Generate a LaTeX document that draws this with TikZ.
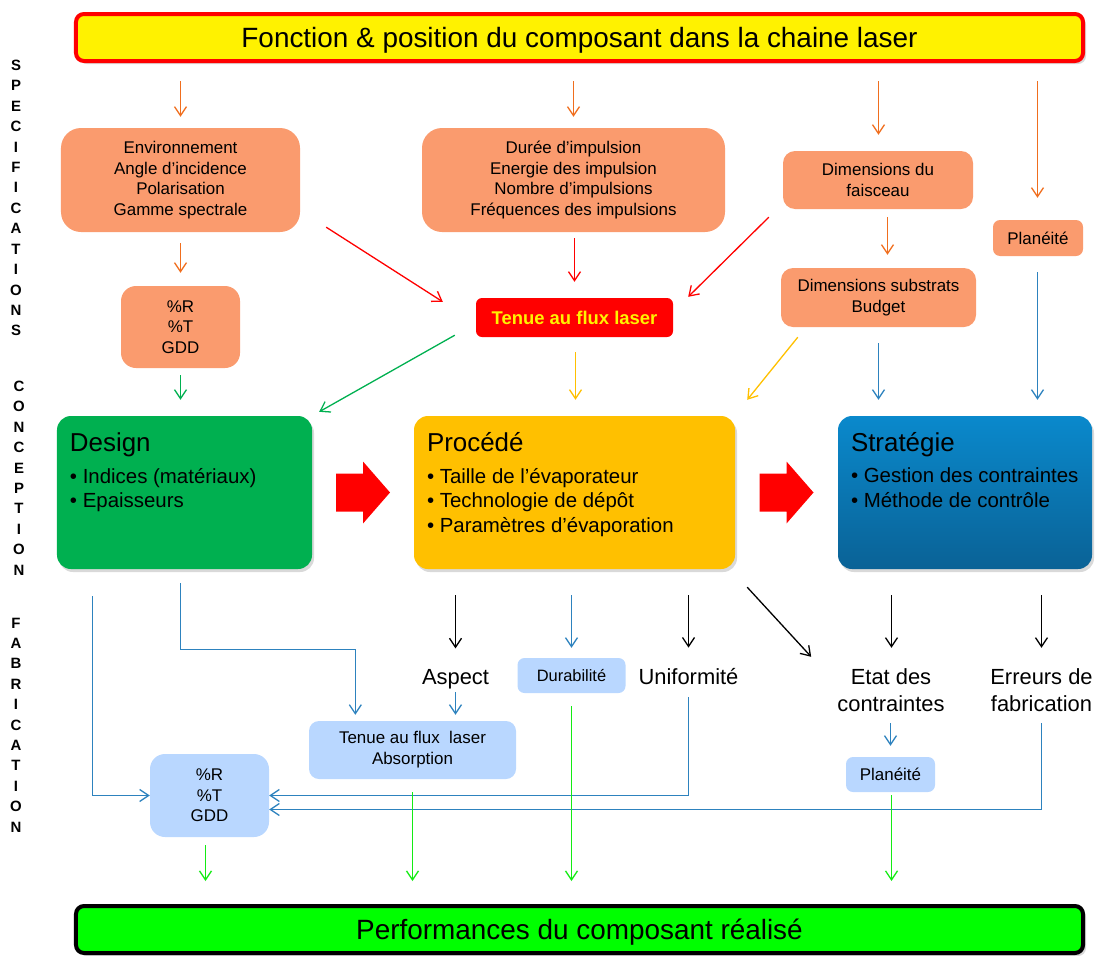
\documentclass[tikz,border=0pt]{standalone}
\usepackage{fontspec}
\setmainfont{Liberation Sans}
\usetikzlibrary{arrows.meta,calc,shadows}

\definecolor{specfill}{RGB}{250,155,110}
\definecolor{specarrow}{RGB}{240,110,30}
\definecolor{fabfill}{RGB}{185,215,255}
\definecolor{linkblue}{RGB}{45,130,190}
\definecolor{designgreen}{RGB}{0,176,80}
\definecolor{procedeyellow}{RGB}{255,192,0}
\definecolor{strattop}{RGB}{10,137,204}
\definecolor{stratbot}{RGB}{10,98,150}
\definecolor{perfgreen}{RGB}{0,255,0}
\definecolor{limearrow}{RGB}{20,235,20}

\newcommand{\fsz}[2]{\fontsize{#1}{#2}\selectfont}

\tikzset{
  spec/.style={fill=specfill, align=center, inner sep=0pt, font=\fsz{17}{20.7}},
  fab/.style={fill=fabfill, align=center, inner sep=0pt, font=\fsz{17}{20.5}},
  bigbox/.style={rounded corners=14bp, minimum height=153bp, inner sep=0pt,
    drop shadow={shadow xshift=2bp, shadow yshift=-3bp, opacity=.3}},
  boxhead/.style={anchor=base west, inner sep=0pt, font=\fsz{26}{31}},
  boxlist/.style={anchor=north west, inner sep=0pt, align=left, font=\fsz{20.5}{25}},
  lbl/.style={align=center, inner sep=0pt, font=\fsz{22}{27}},
  vlett/.style={align=center, inner sep=0pt, font=\bfseries\fsz{15}{20.5}},
  endbox/.style={line width=4bp, rounded corners=8bp, minimum width=1007bp,
    minimum height=47bp, inner sep=0pt, text height=20bp, text depth=0pt,
    font=\fsz{28}{34}, drop shadow={shadow xshift=3bp, shadow yshift=-3bp, opacity=.3}},
  arr/.style={-{Straight Barb[length=9bp,width=12bp]}, line width=1.3bp},
  oarr/.style={arr, specarrow},
  rarr/.style={arr, red},
  garr/.style={arr, designgreen},
  yarr/.style={arr, procedeyellow},
  barr/.style={arr, linkblue},
  karr/.style={arr, black},
  larr/.style={arr, limearrow},
}

\begin{document}
\begin{tikzpicture}[x=1bp, y=-1bp]
  \useasboundingbox (0,0) rectangle (1095,956);

  \node[vlett] (specs) at (16,198) {S\\P\\E\\C\\I\\F\\I\\C\\A\\T\\I\\O\\N\\S};
  \node[vlett] (conc) at (19,478) {C\\O\\N\\C\\E\\P\\T\\I\\O\\N};
  \node[vlett] (fabr) at (16,725) {F\\A\\B\\R\\I\\C\\A\\T\\I\\O\\N};

  \node[endbox, draw=red, fill=yellow] (title) at (579.5,37.5)
    {Fonction \& position du composant dans la chaine laser};

  \node[spec, minimum width=239bp, minimum height=104bp, rounded corners=20bp] (env) at (180.5,180)
    {Environnement\\Angle d’incidence\\Polarisation\\Gamme spectrale};
  \node[spec, minimum width=303bp, minimum height=104bp, rounded corners=20bp] (impl) at (573.5,180)
    {Durée d’impulsion\\Energie des impulsion\\Nombre d’impulsions\\Fréquences des impulsions};
  \node[spec, minimum width=190bp, minimum height=58bp, rounded corners=12bp] (faisc) at (878,180)
    {Dimensions du\\faisceau};
  \node[spec, minimum width=90bp, minimum height=36bp, rounded corners=7bp] (planA) at (1038,238) {Planéité};
  \node[spec, minimum width=119bp, minimum height=82bp, rounded corners=15bp] (specR) at (180.5,327)
    {\%R\\\%T\\GDD};
  \node[fill=red, rounded corners=6bp, minimum width=197bp, minimum height=39bp, inner sep=0pt,
    text=yellow, font=\bfseries\fsz{18.5}{22}] (tenue) at (574.5,317.5) {Tenue au flux laser};
  \node[spec, minimum width=195bp, minimum height=59bp, rounded corners=12bp] (subst) at (878.5,297.5)
    {Dimensions substrats\\Budget};

  \node[bigbox, fill=designgreen, minimum width=255bp] (design) at (184.5,492.5) {};
  \node[bigbox, fill=procedeyellow, minimum width=321bp] (procede) at (574.5,492.5) {};
  \node[bigbox, top color=strattop, bottom color=stratbot, minimum width=254bp] (strat) at (965,492.5) {};
  \node[boxhead] (designhead) at ($(design.north west)+(13,36)$) {Design};
  \node[boxlist] (designlist) at ($(design.north west)+(13,52)$) {• Indices (matériaux)\\• Epaisseurs};
  \node[boxhead] (procedehead) at ($(procede.north west)+(13,36)$) {Procédé};
  \node[boxlist] (procedelist) at ($(procede.north west)+(13,52)$)
    {• Taille de l’évaporateur\\• Technologie de dépôt\\• Paramètres d’évaporation};
  \node[boxhead] (strathead) at ($(strat.north west)+(13,36)$) {Stratégie};
  \node[boxlist] (stratlist) at ($(strat.north west)+(13,52)$)
    {• Gestion des contraintes\\• Méthode de contrôle};

  \foreach \a/\b in {design/procede, procede/strat}
    \fill[red] ($(\a.east)!0.5!(\b.west)$) +(-27,-19) -- +(0,-19) -- +(0,-31) -- +(27,0)
      -- +(0,31) -- +(0,19) -- +(-27,19) -- cycle;

  \node[lbl] (aspect) at (455.5,679.4) {Aspect};
  \node[lbl] (unif) at (688.5,677) {Uniformité};
  \node[lbl] (etat) at (891,690.5) {Etat des\\contraintes};
  \node[lbl] (err) at (1041.5,690.5) {Erreurs de\\fabrication};
  \node[fab, minimum width=108bp, minimum height=35bp, rounded corners=7bp, font=\fsz{16.5}{20}] (dur)
    at (571.5,675.5) {Durabilité};
  \node[fab, minimum width=207bp, minimum height=58bp, rounded corners=10bp, font=\fsz{17}{21}] (tabs)
    at (412.5,750) {Tenue au flux\ \ laser\\Absorption};
  \node[fab, minimum width=119bp, minimum height=83bp, rounded corners=15bp] (fabR) at (209.5,795.5)
    {\%R\\\%T\\GDD};
  \node[fab, minimum width=89bp, minimum height=35bp, rounded corners=7bp] (planB) at (890.5,774.5) {Planéité};

  \node[endbox, draw=black, fill=perfgreen] (perf) at (579.5,929.5)
    {Performances du composant réalisé};

  \draw[oarr, shorten <=18bp, shorten >=11bp] (title.south -| env.north) -- (env.north);
  \draw[oarr, shorten <=18bp, shorten >=11bp] (title.south -| impl.north) -- (impl.north);
  \draw[oarr, shorten <=18bp, shorten >=16bp] ([xshift=.5bp]title.south -| faisc.north) -- ([xshift=.5bp]faisc.north);
  \draw[oarr, shorten <=18bp, shorten >=22bp] ([xshift=-.5bp]title.south -| planA.north) -- ([xshift=-.5bp]planA.north);
  \draw[oarr, shorten <=11bp, shorten >=13bp] (env.south) -- (specR.north);
  \draw[oarr, shorten <=8bp, shorten >=13bp] ([xshift=9.5bp]faisc.south) -- ([xshift=9.5bp]faisc.south |- subst.north);
  \draw[rarr] ($(env.south east)+(26,-5)$) -- ($(tenue.north west)+(-33,4)$);
  \draw[rarr, shorten <=6bp, shorten >=16bp] (tenue.north |- impl.south) -- (tenue.north);
  \draw[rarr] ($(faisc.south west)+(-14,8)$) -- ($(tenue.north east)+(15,-1)$);

  \draw[garr, shorten <=7bp, shorten >=16bp] (specR.south) -- (specR.south |- design.north);
  \draw[garr] ($(tenue.south west)+(-21,-2)$) -- ($(design.north east)+(7,-4)$);
  \draw[yarr, shorten <=15bp, shorten >=16bp] ([xshift=1bp]tenue.south) -- ([xshift=1bp]tenue.south |- procede.north);
  \draw[yarr] ($(subst.south west)+(17,10)$) -- ($(procede.north east)+(12,-16)$);
  \draw[barr, shorten <=16bp, shorten >=16bp] (subst.south) -- (subst.south |- strat.north);
  \draw[barr, shorten <=16bp, shorten >=16bp] ([xshift=-.5bp]planA.south) -- ([xshift=-.5bp]planA.south |- strat.north);

  \draw[karr, shorten <=26bp, shorten >=21bp] (procede.south -| aspect.north) -- (aspect.north);
  \draw[barr, shorten <=26bp, shorten >=10bp] (procede.south -| dur.north) -- (dur.north);
  \draw[karr, shorten <=26bp, shorten >=21bp] (procede.south -| unif.north) -- (unif.north);
  \draw[karr] ($(procede.south east)+(12,18)$) -- ($(etat.north west)+(-26,-12)$);
  \draw[karr, shorten <=26bp, shorten >=21bp] ([xshift=.5bp]strat.south -| etat.north) -- ([xshift=.5bp]etat.north);
  \draw[karr, shorten <=26bp, shorten >=21bp] (strat.south -| err.north) -- (err.north);

  \draw[barr] ($(design.south west)+(35.5,27)$) |- (fabR.west);
  \draw[barr] ($(design.south)+(-4,14)$) |- ($(tabs.north west)+(46.5,-71.5)$) -- ($(tabs.north west)+(46.5,-6)$);
  \draw[barr, shorten <=3bp, shorten >=6bp] (aspect.south) -- (aspect.south |- tabs.north);
  \draw[barr, shorten <=12bp] (unif.south) |- (fabR.east);
  \draw[barr, shorten <=11bp] (err.south) |- ([yshift=-14bp]fabR.east);
  \draw[barr, shorten <=11bp, shorten >=11bp] (planB.north |- etat.south) -- (planB.north);

  \draw[larr, shorten <=8bp, shorten >=23bp] ([xshift=-4bp]fabR.south) -- ([xshift=-4bp]fabR.south |- perf.north);
  \draw[larr, shorten <=13bp, shorten >=23bp] (tabs.south) -- (tabs.south |- perf.north);
  \draw[larr, shorten <=13bp, shorten >=23bp] (dur.south) -- (dur.south |- perf.north);
  \draw[larr, shorten <=3bp, shorten >=23bp] ([xshift=1bp]planB.south) -- ([xshift=1bp]planB.south |- perf.north);
\end{tikzpicture}
\end{document}
